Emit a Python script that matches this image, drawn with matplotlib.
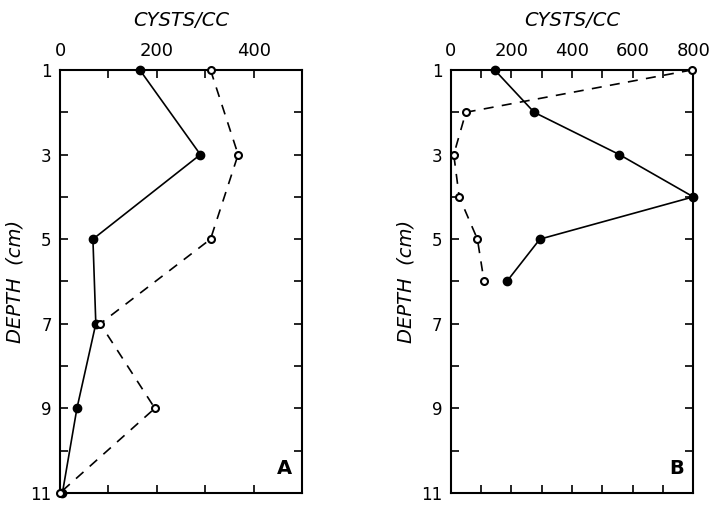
import matplotlib
matplotlib.use("Agg")
import matplotlib.pyplot as plt

# Panel A data
depth_a = [1, 3, 5, 7, 9, 11]
solid_a = [165, 290, 68, 74, 35, 5]
open_a = [311, 368, 311, 83, 196, 0]

# Panel B data
depth_b = [1, 2, 3, 4, 5, 6]
solid_b = [145, 275, 556, 800, 294, 185]
open_b = [795, 50, 10, 28, 88, 110]

xticks_a = [0, 200, 400]
xticks_b = [0, 200, 400, 600, 800]
yticks = [1, 3, 5, 7, 9, 11]

fig = plt.figure(figsize=(7.16, 5.05), dpi=100)
ax_a = fig.add_axes([0.0838, 0.024, 0.338, 0.8374])
ax_b = fig.add_axes([0.6295, 0.024, 0.3388, 0.8374])

def style(ax, xmax, xmajor, xminor_step, letter):
    ax.set_xlim(0, xmax)
    ax.set_ylim(11, 1)
    ax.xaxis.tick_top()
    ax.set_xticks(xmajor)
    ax.set_xticklabels([str(v) for v in xmajor], fontsize=13)
    ax.set_xticks(list(range(0, xmax + 1, xminor_step)), minor=True)
    ax.set_yticks(yticks)
    ax.set_yticklabels([str(v) for v in yticks], fontsize=12)
    ax.set_yticks(list(range(1, 12)), minor=True)
    ax.tick_params(which='both', direction='in', length=6, width=1.2,
                   top=True, bottom=True, left=True, right=True,
                   labeltop=True, labelbottom=False)
    ax.tick_params(axis='x', which='both', pad=7)
    ax.tick_params(axis='y', which='both', pad=6)
    for s in ax.spines.values():
        s.set_linewidth(1.5)
    ax.xaxis.set_label_position('top')
    ax.set_xlabel('CYSTS/CC', fontsize=14, fontstyle='italic', labelpad=12)
    ax.set_ylabel('DEPTH  (cm)', fontsize=14, fontstyle='italic', labelpad=4)
    ax.text(0.96, 0.035, letter, transform=ax.transAxes, ha='right', va='bottom',
            fontsize=14, fontweight='bold')

ax_a.plot(solid_a, depth_a, '-', color='black', lw=1.2, marker='o', ms=6,
          mfc='black', mec='black', clip_on=False, zorder=3)
ax_a.plot(open_a, depth_a, '--', color='black', lw=1.2, dashes=(6, 5), marker='o', ms=5,
          mfc='white', mec='black', mew=1.5, clip_on=False, zorder=3)
style(ax_a, 500, xticks_a, 100, 'A')

ax_b.plot(solid_b, depth_b, '-', color='black', lw=1.2, marker='o', ms=6,
          mfc='black', mec='black', clip_on=False, zorder=3)
ax_b.plot(open_b, depth_b, '--', color='black', lw=1.2, dashes=(6, 5), marker='o', ms=5,
          mfc='white', mec='black', mew=1.5, clip_on=False, zorder=3)
style(ax_b, 800, xticks_b, 100, 'B')

fig.savefig('out.png', dpi=100)
